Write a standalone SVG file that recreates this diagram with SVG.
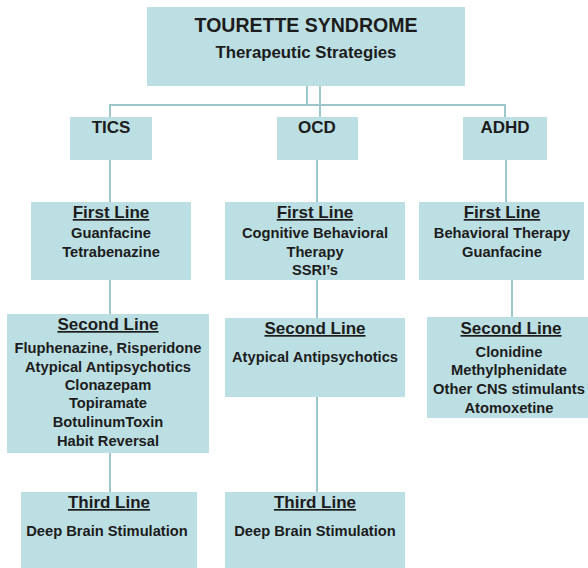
<svg xmlns="http://www.w3.org/2000/svg" width="588" height="568" viewBox="0 0 588 568">
<style>
.box{fill:#bcdfe3;}
.ln{stroke:#9ec7cd;stroke-width:2;fill:none;}
text{font-family:"Liberation Sans",Arial,Helvetica,sans-serif;font-weight:bold;fill:#1c1c1c;text-anchor:middle;}
.t{font-size:14.7px;}
.h{font-size:17px;text-decoration:underline;}
.c{font-size:17px;}
</style>
<rect width="588" height="568" fill="#ffffff"/>
<g id="connectors">
<path class="ln" d="M307,86 V105 M320,86 V117 M110,117 V105 H505 V117"/>
<path class="ln" d="M110,160 V202 M110,280 V314 M110,453 V492"/>
<path class="ln" d="M317,160 V202 M317,280 V318 M317,397 V492"/>
<path class="ln" d="M506,160 V202 M512,280 V317"/>
</g>
<g id="root">
<rect class="box" x="147" y="7" width="318" height="79"/>
<text x="306" y="32" style="font-size:19.5px">TOURETTE SYNDROME</text>
<text x="306" y="58" style="font-size:16.8px">Therapeutic Strategies</text>
</g>
<g id="tics">
<rect class="box" x="70" y="117" width="82" height="43"/>
<text class="c" x="111" y="133">TICS</text>
</g>
<g id="ocd">
<rect class="box" x="277" y="117" width="81" height="43"/>
<text class="c" x="317" y="133">OCD</text>
</g>
<g id="adhd">
<rect class="box" x="463" y="117" width="84" height="43"/>
<text class="c" x="505" y="133">ADHD</text>
</g>
<g id="tics-first">
<rect class="box" x="31" y="202" width="160" height="78"/>
<text class="h" x="111" y="218">First Line</text>
<text class="t" x="111" y="238">Guanfacine</text>
<text class="t" x="111" y="257">Tetrabenazine</text>
</g>
<g id="ocd-first">
<rect class="box" x="225" y="202" width="180" height="78"/>
<text class="h" x="315" y="218">First Line</text>
<text class="t" x="315" y="238">Cognitive Behavioral</text>
<text class="t" x="315" y="257">Therapy</text>
<text class="t" x="315" y="275">SSRI’s</text>
</g>
<g id="adhd-first">
<rect class="box" x="419" y="202" width="165" height="78"/>
<text class="h" x="502" y="218">First Line</text>
<text class="t" x="502" y="238">Behavioral Therapy</text>
<text class="t" x="502" y="257">Guanfacine</text>
</g>
<g id="tics-second">
<rect class="box" x="7" y="314" width="202" height="139"/>
<text class="h" x="108" y="330">Second Line</text>
<text class="t" x="108" y="353">Fluphenazine, Risperidone</text>
<text class="t" x="108" y="372">Atypical Antipsychotics</text>
<text class="t" x="108" y="390">Clonazepam</text>
<text class="t" x="108" y="408">Topiramate</text>
<text class="t" x="108" y="427">BotulinumToxin</text>
<text class="t" x="108" y="446">Habit Reversal</text>
</g>
<g id="ocd-second">
<rect class="box" x="225" y="318" width="180" height="79"/>
<text class="h" x="315" y="334">Second Line</text>
<text class="t" x="315" y="362">Atypical Antipsychotics</text>
</g>
<g id="adhd-second">
<rect class="box" x="427" y="317" width="161" height="101"/>
<text class="h" x="511" y="334">Second Line</text>
<text class="t" x="509" y="357">Clonidine</text>
<text class="t" x="509" y="375">Methylphenidate</text>
<text class="t" x="509" y="394">Other CNS stimulants</text>
<text class="t" x="509" y="413">Atomoxetine</text>
</g>
<g id="tics-third">
<rect class="box" x="21" y="492" width="176" height="76"/>
<text class="h" x="109" y="508">Third Line</text>
<text class="t" x="107" y="536">Deep Brain Stimulation</text>
</g>
<g id="ocd-third">
<rect class="box" x="225" y="492" width="180" height="76"/>
<text class="h" x="315" y="508">Third Line</text>
<text class="t" x="315" y="536">Deep Brain Stimulation</text>
</g>
</svg>
